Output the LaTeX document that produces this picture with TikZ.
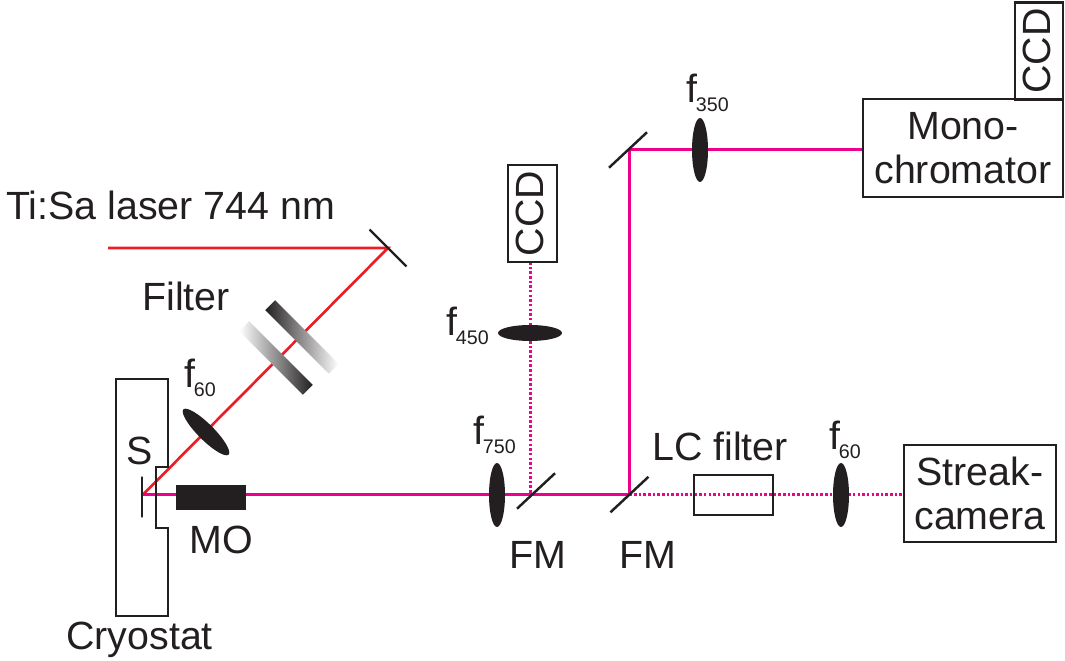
\documentclass[tikz,border=0pt]{standalone}
\usepackage{xcolor}
\usepackage{fontspec}
\setmainfont{Liberation Sans}
\usetikzlibrary{positioning, shapes.geometric, backgrounds}

\definecolor{ink}{HTML}{231F20}
\definecolor{laserred}{HTML}{ED1C24}
\definecolor{signalpink}{HTML}{EC008C}

\newcommand{\focal}[1]{f\kern-0.8pt\raisebox{-5pt}{\fontsize{11.2}{12}\selectfont #1}}

\begin{document}
\begin{tikzpicture}[
    x=0.02cm,
    y=-0.02cm,
    every node/.style={text=ink, font=\fontsize{22.4}{24.8}\selectfont},
    box/.style={rectangle, draw=ink, line width=1.4pt, inner sep=0pt, align=center},
    ccd/.style={box, rotate=90, minimum width=1.94cm, text depth=3pt},
    lens/.style={ellipse, fill=ink, inner sep=0pt, minimum width=1.28cm, minimum height=0.32cm},
    mirror/.style={rectangle, draw=ink, line width=1.4pt, inner sep=0pt, minimum width=1.04cm, minimum height=0pt},
    plate/.style={rectangle, inner sep=0pt, minimum width=1.8cm, minimum height=0.28cm},
    label/.style={anchor=base west, inner sep=0pt},
    pump/.style={laserred, line width=1.5pt},
    signal/.style={signalpink, line width=1.7pt},
    probe/.style={signalpink, line width=1.7pt, dash pattern=on 1.45pt off 1.2pt}
]
\useasboundingbox (0,0) rectangle (1065,661);

% Cryostat outline and sample
\draw[ink, line width=1.4pt] (116,379) -- (168,379) -- (168,467) -- (156,467) -- (156,528) -- (168,528) -- (168,616) -- (116,616) -- cycle;
\node[mirror, rotate=90, minimum width=0.82cm] (sample) at (142,497) {};
\coordinate (focus) at (143,494.6);

% Objective
\node[rectangle, fill=ink, inner sep=0pt, minimum width=1.4cm, minimum height=0.5cm] (mo) at (211,497.5) {};

% Mirrors
\node[mirror, rotate=-45] (steer) at (388,248) {};
\node[mirror, rotate=43] (fma) at (536,491) {};
\node[mirror, rotate=43] (fmb) at (629.4,494.6) {};
\node[mirror, rotate=43] (fmc) at (628,150) {};

% Lenses
\node[lens, rotate=-45] (lensa) at (206,432) {};
\node[lens, rotate=90] (lensb) at (497,495) {};
\node[lens] (lensc) at (530,333) {};
\node[lens, rotate=90] (lensd) at (700,150) {};
\node[lens, rotate=90] (lense) at (841,495) {};

% Filter plates
\node[plate, rotate=-45, left color=ink, right color=white] (plateb) at (302,337) {};
\node[plate, rotate=-45, left color=white, right color=ink] (platea) at (276,358) {};

% Boxes
\node[ccd, minimum height=0.96cm] (ccdtop) at (1039,51) {CCD};
\node[ccd, minimum height=0.98cm] (ccdmid) at (532.5,213.5) {CCD};
\node[box, minimum width=4cm, minimum height=1.96cm] (mono) at (963,148) {Mono-\\chromator};
\node[box, minimum width=3.04cm, minimum height=1.94cm] (streak) at (980,493.5) {Streak-\\camera};
\node[box, minimum width=1.58cm, minimum height=0.8cm] (lcbox) at (733.5,495) {};

% Beams
\coordinate (laser) at (108,248);
\coordinate (tap) at (530.5,262);
\begin{scope}[on background layer]
    \draw[pump] (laser) -- (steer.center) -- (focus);
    \draw[signal] (focus) -- (fmb.center) -- (fmb.center |- fmc.center) -- (mono.west |- fmc.center);
    \draw[probe] (fmb.center) -- (fmb.center -| streak.west);
    \draw[probe] (tap) -- (tap |- fmb.center);
\end{scope}

% Labels
\node[label] (lasertxt) at (6,220) {Ti:Sa laser 744 nm};
\node[label] (filtertxt) at (142,311) {Filter};
\node[label] (stxt) at (126,465) {S};
\node[label] (motxt) at (189,554) {MO};
\node[label] (cryotxt) at (66,650) {Cryostat};
\node[label] (fmatxt) at (509,569) {FM};
\node[label] (fmbtxt) at (619,569) {FM};
\node[label] (lctxt) at (652,461) {LC filter};
\node[label] (fatxt) at (184,388) {\focal{60}};
\node[label] (fbtxt) at (473,445) {\focal{750}};
\node[label] (fctxt) at (446,336) {\focal{450}};
\node[label] (fdtxt) at (686,103) {\focal{350}};
\node[label] (fetxt) at (829,450) {\focal{60}};

\end{tikzpicture}
\end{document}
